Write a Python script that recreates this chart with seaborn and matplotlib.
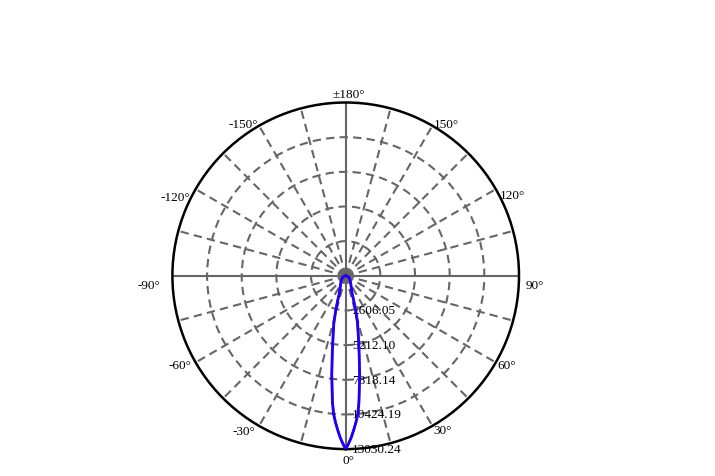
import numpy as np
import pandas as pd
import matplotlib
matplotlib.use("Agg")
import matplotlib.pyplot as plt
import seaborn as sns

# intensity (cd) against angle from nadir (deg), one half-plane, mirrored for the other
angles = [0, 1, 2, 3, 4, 5, 6, 8, 10, 12, 14, 16, 18, 20, 25, 30, 40, 50, 60, 70, 90, 120, 150, 180]
c0_c180 = [13030, 12620, 12150, 11600, 11050, 10450, 9550, 7550, 5800, 4550, 3700, 2750,
           1950, 1400, 1000, 780, 540, 400, 280, 200, 40, 0, 0, 0]
c90_c270 = [13030, 12600, 12120, 11560, 11000, 10400, 9500, 7500, 5760, 4520, 3670, 2720,
            1930, 1380, 990, 770, 530, 395, 275, 195, 38, 0, 0, 0]

r_ticks = [2606.05, 5212.10, 7818.14, 10424.19, 13030.24]
r_labels = ["2606.05", "5212.10", "7818.14", "10424.19", "13030.24"]
grid_angles = list(range(0, 360, 15))
label_angles = [0, 30, 60, 90, 120, 150, 180, -150, -120, -90, -60, -30]
label_texts = ["0°", "30°", "60°", "90°", "120°", "150°", "±180°",
               "-150°", "-120°", "-90°", "-60°", "-30°"]
# where each angle label sits relative to its point on the rim (pixels, ha)
label_offsets = [(3, -14, "center"), (0.6, -7, "left"), (2, -6, "left"), (7, -12, "left"),
                 (4, -9, "left"), (1, -1, "left"), (3, 6, "center"), (-0.7, -1, "right"),
                 (-5.6, -11, "right"), (-12.3, -12, "right"), (-4.6, -6, "right"),
                 (-4, -8, "right")]


def full_curve(vals):
    a = [-x for x in angles[::-1]] + angles[1:]
    v = vals[::-1] + vals[1:]
    return pd.DataFrame({"theta": np.deg2rad(a), "cd": v})


sns.set_theme(style="white")
plt.rcParams["font.family"] = ["Liberation Serif", "DejaVu Serif"]

fig = plt.figure(figsize=(7.15, 4.77), dpi=100)
ax = fig.add_axes([0.2411, 0.0564, 0.4848, 0.7266], projection="polar")
ax.set_theta_zero_location("S")
ax.set_theta_direction(1)

sns.lineplot(data=full_curve(c90_c270), x="theta", y="cd", ax=ax, sort=False,
             estimator=None, color="#e00000", linewidth=1.6, zorder=5)
sns.lineplot(data=full_curve(c0_c180), x="theta", y="cd", ax=ax, sort=False,
             estimator=None, color="#1a00ff", linewidth=2.0, zorder=6)

ax.set_ylim(0, r_ticks[-1])
ax.set_yticks(r_ticks)
ax.set_yticklabels([])
ax.set_xticks(np.deg2rad(grid_angles))
ax.set_xticklabels([])
ax.set_xlabel("")
ax.set_ylabel("")

ax.grid(True, color="#666666", linestyle=(0, (4, 2.5)), linewidth=1.5)
for t, gl in zip(grid_angles, ax.xaxis.get_gridlines()):
    if t % 90 == 0:
        gl.set_linestyle("-")
ax.yaxis.get_gridlines()[-1].set_visible(False)
ax.spines["polar"].set_color("black")
ax.spines["polar"].set_linewidth(1.8)

for ang, txt, (dx, dy, ha) in zip(label_angles, label_texts, label_offsets):
    ax.annotate(txt, xy=(np.deg2rad(ang), r_ticks[-1]), xytext=(dx, dy),
                textcoords="offset pixels", ha=ha, va="baseline", fontsize=9.5,
                color="black", annotation_clip=False)

for r, lab in zip(r_ticks, r_labels):
    ax.annotate(lab, xy=(0, r), xytext=(6.5, -3), textcoords="offset pixels",
                ha="left", va="baseline", fontsize=9.5, color="black", zorder=4,
                annotation_clip=False)

fig.savefig("out.png", dpi=100)
